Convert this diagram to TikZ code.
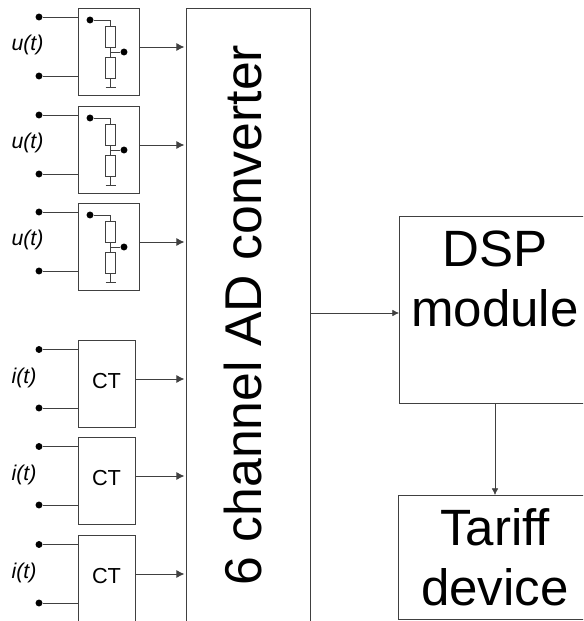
\documentclass[tikz,border=0pt]{standalone}
\usepackage{fontspec}
\setmainfont{Liberation Sans}
\usetikzlibrary{arrows.meta}
\tikzset{
  wire/.style={draw=black!75,line width=0.7pt},
  sig/.style={wire,-{Latex[length=6pt,width=6pt]}},
  thinsig/.style={draw=black!75,line width=0.5pt,-{Latex[length=5pt,width=5pt]}},
  term/.style={circle,fill=black,inner sep=0pt,minimum size=5.2pt},
  vdbox/.style={wire,anchor=north west,inner sep=0pt,minimum width=45.75pt,minimum height=65.25pt},
  ctbox/.style={wire,anchor=north west,inner sep=0pt,minimum width=42.75pt,minimum height=65.25pt},
  res/.style={wire,inner sep=0pt,minimum width=7.5pt,minimum height=15.75pt},
  sigtext/.style={font=\itshape\fontsize{16}{18}\selectfont},
  bigbox/.style={wire,anchor=north west,inner sep=0pt},
  bigtext/.style={font=\fontsize{38.3}{45}\selectfont,align=center}
}
\begin{document}
\begin{tikzpicture}[x=0.75pt,y=-0.75pt]
\useasboundingbox (0,0) rectangle (583,621);
\clip (0,0) rectangle (583,621);
\node[bigbox,minimum width=93pt,minimum height=600pt] (adc) at (186,8) {};
\node[bigtext,font=\fontsize{38.8}{45}\selectfont,rotate=90,anchor=base] at (261,315) {6 channel AD converter};
\node[bigbox,minimum width=144pt,minimum height=140.25pt] (dsp) at (399,216) {};
\node[bigtext,anchor=north] at (495,226) {DSP\\module};
\node[bigbox,minimum width=144pt,minimum height=93pt] (tariff) at (398,495) {};
\node[bigtext,anchor=north] at (495,504) {Tariff\\device};
\coordinate (dspin) at (399,313);
\coordinate (tariffin) at (495,495);
\draw[thinsig] (adc.east |- dspin) -- (dspin);
\draw[thinsig] (tariffin |- dsp.south) -- (tariffin);
\foreach \y/\n in {8/1,106/2,203/3} {
  \node[vdbox] (vd\n) at (78,\y) {};
  \node[term] (ua\n) at (39,\y+9) {};
  \node[term] (ub\n) at (39,\y+68) {};
  \draw[wire] (ua\n) -- (ua\n -| vd\n.west);
  \draw[wire] (ub\n) -- (ub\n -| vd\n.west);
  \node[sigtext] (ul\n) at (27.5,\y+37) {u(t)};
  \node[res] (ra\n) at (110.5,\y+29) {};
  \node[res] (rb\n) at (110.5,\y+60) {};
  \node[term] (wa\n) at (90,\y+12) {};
  \node[term] (wb\n) at (124,\y+44) {};
  \coordinate (gnd\n) at (110.5,\y+79);
  \draw[wire] (wa\n) -| (ra\n.north);
  \draw[wire] (ra\n.south) -- (rb\n.north);
  \draw[wire] (wb\n) -- (wb\n -| ra\n);
  \draw[wire] (rb\n.south) -- (gnd\n);
  \draw[wire] ([xshift=-3.75pt]gnd\n) -- ([xshift=3.75pt]gnd\n);
  \coordinate (uo\n) at (139,\y+39);
  \draw[sig,shorten >=1.2pt] (uo\n) -- (uo\n -| adc.west);
}
\foreach \y/\n in {340/1,437/2,535/3} {
  \node[ctbox] (ct\n) at (78,\y) {};
  \node[font=\fontsize{16.3}{18}\selectfont] (cl\n) at (106.5,\y+41) {CT};
  \node[term] (ia\n) at (39,\y+9.5) {};
  \node[term] (ib\n) at (39,\y+68) {};
  \draw[wire] (ia\n) -- (ia\n -| ct\n.west);
  \draw[wire] (ib\n) -- (ib\n -| ct\n.west);
  \node[sigtext] (il\n) at (24,\y+38) {i(t)};
  \coordinate (io\n) at (135,\y+39);
  \draw[sig,shorten >=1.2pt] (io\n) -- (io\n -| adc.west);
}
\end{tikzpicture}
\end{document}
